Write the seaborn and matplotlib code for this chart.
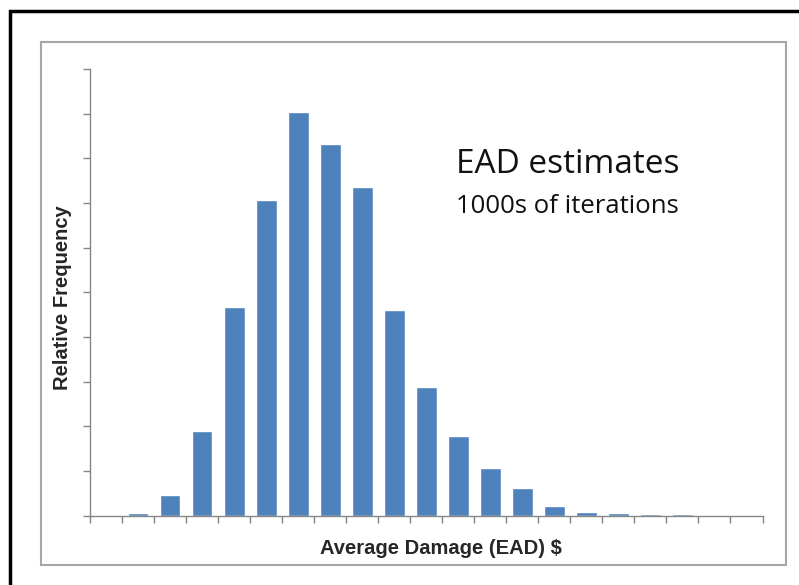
import numpy as np
import pandas as pd
import seaborn as sns
import matplotlib.pyplot as plt
from matplotlib.patches import Rectangle

# relative frequency of the EAD estimate per bin
bins = [f"bin{i}" for i in range(21)]
freq = [0.0, 0.05, 0.47, 1.89, 4.67, 7.07, 9.03, 8.32, 7.36, 4.60, 2.88,
        1.78, 1.06, 0.62, 0.21, 0.08, 0.06, 0.03, 0.03, 0.0, 0.0]

df = pd.DataFrame({"bin": bins, "freq": freq})

sns.set_style("white")
fig = plt.figure(figsize=(7.99, 5.85), dpi=100)

# outer black frame and inner grey chart-area frame
fig.patches.append(Rectangle((10 / 799, -0.1), 1.2, 1 - 11 / 585 + 0.1,
                             transform=fig.transFigure, fill=False,
                             edgecolor="black", linewidth=2.5))
fig.patches.append(Rectangle((41 / 799, 1 - 565 / 585), 745 / 799, 523 / 585,
                             transform=fig.transFigure, fill=False,
                             edgecolor="#a6a6a6", linewidth=1.5))

ax = fig.add_axes([90 / 799, 1 - 515.5 / 585, 672.5 / 799, 446.5 / 585])
sns.barplot(data=df, x="bin", y="freq", color="#4f81bd", saturation=1,
            width=0.65, ax=ax)

ax.set_xlim(-0.5, 20.5)
ax.set_ylim(0, 10)
ax.set_xticks(np.arange(-0.5, 21, 1))
ax.set_yticks(np.arange(0, 11, 1))
ax.set_xticklabels([])
ax.set_yticklabels([])
ax.tick_params(axis="both", direction="out", length=5, width=1,
               color="#868686", bottom=True, left=True)
for side in ["top", "right"]:
    ax.spines[side].set_visible(False)
for side in ["left", "bottom"]:
    ax.spines[side].set_color("#868686")
    ax.spines[side].set_linewidth(1)
ax.set_xlabel("")
ax.set_ylabel("")

fig.text(441 / 799, 1 - 548 / 585, "Average Damage (EAD) $", ha="center",
         va="center", fontsize=14.5, fontweight="bold",
         family="Liberation Sans")
fig.text(62 / 799, 1 - 298 / 585, "Relative Frequency", ha="center",
         va="center", rotation=90, fontsize=14.5, fontweight="bold",
         family="Liberation Sans")

fig.text(456 / 799, 1 - 173 / 585, "EAD estimates", ha="left",
         va="baseline", fontsize=24, family="Open Sans", color="#111111")
fig.text(456 / 799, 1 - 213 / 585, "1000s of iterations", ha="left",
         va="baseline", fontsize=18.5, family="Open Sans", color="#111111")

fig.savefig("out.png", dpi=100)
